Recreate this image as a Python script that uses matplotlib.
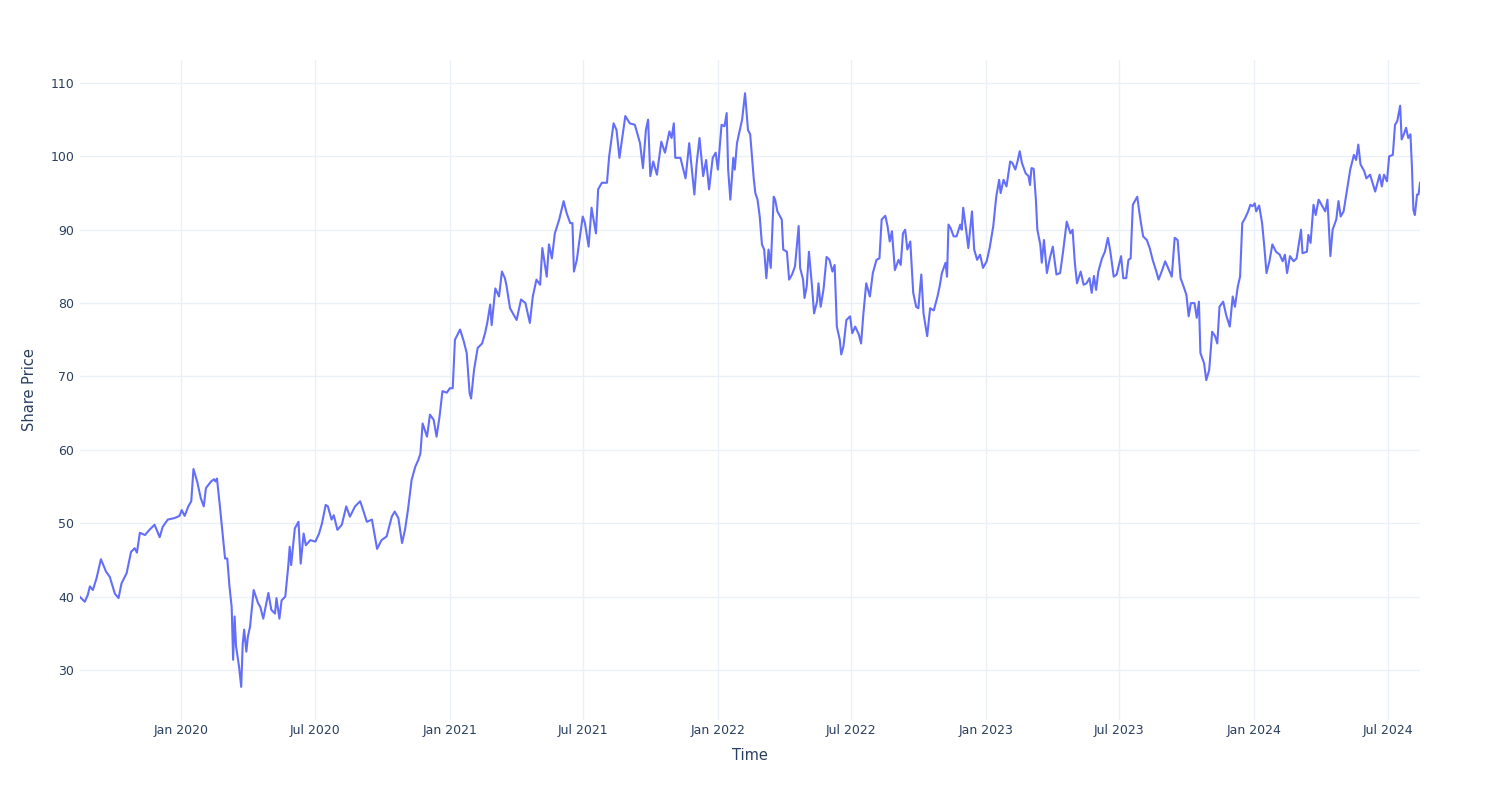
import matplotlib
matplotlib.use("Agg")
import matplotlib.pyplot as plt
import matplotlib.dates as mdates
import pandas as pd

# Data: days since 2020-01-01 and share price
base_date = "2020-01-01"
days = [
    -138, -131, -127, -124, -120, -115, -109, -102, -97, -90, -85, -81, -74, -68, -63, -60,
    -56, -49, -43, -36, -29, -25, -18, -9, -2, 1, 5, 10, 14, 17, 22, 27, 31, 34, 41, 45,
    47, 49, 53, 56, 60, 63, 66, 69, 71, 73, 75, 79, 82, 84, 86, 89, 91, 94, 99, 105,
    108, 112, 119, 123, 128, 130, 134, 137, 142, 146, 148, 150, 155, 160, 163, 167, 170, 176,
    183, 188, 192, 197, 200, 205, 208, 213, 219, 225, 230, 237, 244, 248, 253, 260, 267, 273,
    280, 287, 291, 296, 301, 305, 309, 314, 319, 323, 326, 329, 335, 339, 344, 348, 352, 356,
    362, 366, 370, 373, 380, 385, 389, 393, 395, 399, 404, 410, 414, 417, 421, 423, 428, 433,
    437, 441, 443, 448, 452, 457, 463, 469, 475, 479, 484, 489, 492, 498, 501, 505, 509, 515,
    521, 525, 530, 533, 535, 539, 542, 547, 550, 555, 559, 565, 568, 573, 580, 583, 589, 593,
    597, 601, 605, 611, 618, 625, 629, 633, 636, 639, 643, 648, 654, 659, 665, 668, 671, 673,
    680, 687, 692, 699, 702, 706, 711, 715, 719, 724, 728, 731, 736, 740, 743, 745, 748, 752,
    754, 757, 761, 764, 768, 772, 775, 780, 782, 785, 788, 791, 794, 797, 800, 803, 807, 809,
    812, 818, 820, 825, 828, 832, 836, 841, 843, 847, 849, 852, 855, 859, 862, 866, 868, 871,
    875, 879, 883, 887, 890, 893, 897, 899, 902, 906, 911, 914, 918, 923, 926, 929, 933, 938,
    942, 947, 951, 954, 959, 962, 965, 968, 972, 977, 980, 983, 986, 989, 993, 997, 1001, 1004,
    1008, 1011, 1016, 1020, 1025, 1030, 1033, 1036, 1041, 1043, 1045, 1048, 1052, 1056, 1061, 1063,
    1065, 1069, 1072, 1077, 1080, 1084, 1088, 1092, 1097, 1101, 1106, 1110, 1114, 1116, 1120, 1124,
    1129, 1132, 1136, 1139, 1142, 1145, 1150, 1154, 1156, 1158, 1161, 1164, 1166, 1170, 1172, 1175,
    1179, 1183, 1187, 1192, 1197, 1201, 1206, 1211, 1214, 1217, 1220, 1225, 1229, 1233, 1237, 1240,
    1243, 1246, 1249, 1254, 1258, 1262, 1265, 1270, 1274, 1280, 1283, 1287, 1290, 1293, 1296, 1302,
    1306, 1310, 1315, 1319, 1323, 1328, 1331, 1336, 1340, 1344, 1349, 1353, 1357, 1361, 1365, 1369,
    1372, 1375, 1380, 1383, 1386, 1388, 1393, 1396, 1400, 1404, 1408, 1411, 1414, 1419, 1423, 1428,
    1432, 1435, 1439, 1442, 1445, 1449, 1453, 1456, 1459, 1462, 1464, 1468, 1472, 1475, 1478, 1482,
    1486, 1491, 1496, 1500, 1503, 1506, 1510, 1515, 1519, 1525, 1527, 1533, 1535, 1538, 1542, 1545,
    1549, 1553, 1558, 1561, 1565, 1568, 1573, 1576, 1579, 1583, 1587, 1592, 1597, 1600, 1603, 1606,
    1611, 1614, 1619, 1626, 1632, 1635, 1638, 1642, 1645, 1650, 1653, 1656, 1660, 1662, 1665, 1668,
    1671, 1674, 1676, 1678, 1680, 1683, 1685, 1687,
]
price = [
    40.0, 39.3, 40.2, 41.4, 40.9, 42.5, 45.1, 43.4, 42.7, 40.4, 39.8, 41.8, 43.2, 46.1, 46.6, 46.0,
    48.7, 48.4, 49.1, 49.8, 48.1, 49.5, 50.5, 50.7, 51.0, 51.8, 51.0, 52.3, 53.0, 57.4, 55.7, 53.4, 52.3, 54.8, 55.7, 56.0,
    55.7, 56.1, 52.3, 49.3, 45.2, 45.2, 41.4, 38.6, 31.4, 37.3, 33.2, 30.5, 27.7, 33.5, 35.5, 32.5, 34.5, 35.9, 40.9, 39.1,
    38.6, 37.0, 40.5, 38.2, 37.7, 39.8, 37.0, 39.5, 40.0, 44.1, 46.8, 44.3, 49.3, 50.2, 44.5, 48.6, 47.0, 47.7,
    47.5, 48.6, 50.0, 52.5, 52.3, 50.5, 51.1, 49.1, 49.8, 52.3, 50.9, 52.3, 53.0, 51.8, 50.2, 50.5, 46.5, 47.7,
    48.2, 50.9, 51.6, 50.7, 47.3, 49.1, 51.8, 55.9, 57.7, 58.6, 59.5, 63.6, 61.8, 64.8, 64.1, 61.8, 64.5, 68.0,
    67.8, 68.4, 68.4, 75.0, 76.4, 74.8, 73.2, 67.7, 67.0, 70.9, 73.9, 74.5, 75.9, 77.3, 79.8, 77.0, 82.0, 80.9,
    84.3, 83.4, 82.5, 79.3, 78.6, 77.7, 80.5, 80.0, 77.3, 80.9, 83.2, 82.5, 87.5, 83.6, 88.0, 86.1, 89.5, 91.4,
    93.9, 92.3, 90.9, 90.9, 84.3, 85.9, 88.2, 91.8, 90.9, 87.7, 93.0, 89.5, 95.5, 96.4, 96.4, 100.0, 104.5, 103.6,
    99.8, 102.7, 105.5, 104.5, 104.3, 101.8, 98.4, 103.6, 105.0, 97.3, 99.3, 97.5, 102.0, 100.5, 103.4, 102.5, 104.5, 99.8,
    99.8, 97.0, 101.8, 94.8, 98.9, 102.5, 97.3, 99.5, 95.5, 99.8, 100.5, 98.2, 104.3, 104.1, 105.9, 98.2, 94.1, 99.8,
    98.2, 101.8, 103.6, 105.0, 108.6, 103.6, 103.0, 96.8, 95.0, 94.1, 91.8, 88.0, 87.3, 83.4, 87.3, 84.8, 94.5, 94.1,
    92.5, 91.4, 87.3, 87.0, 83.2, 83.9, 85.0, 90.5, 84.8, 83.2, 80.7, 82.3, 87.0, 82.5, 78.6, 80.2, 82.7, 79.5,
    82.0, 86.3, 85.9, 84.3, 85.2, 76.8, 75.0, 73.0, 74.1, 77.7, 78.2, 75.9, 76.8, 75.7, 74.5, 78.4, 82.7, 80.9,
    84.1, 85.9, 86.1, 91.4, 91.9, 90.5, 88.4, 89.8, 84.5, 85.9, 85.2, 89.5, 90.0, 87.3, 88.4, 81.4, 79.5, 79.3,
    83.9, 78.6, 75.5, 79.3, 79.0, 80.9, 82.3, 84.1, 85.5, 83.6, 90.7, 90.2, 89.1, 89.1, 90.7, 90.0,
    93.0, 90.0, 87.5, 92.5, 87.3, 85.9, 86.6, 84.8, 85.7, 87.5, 90.5, 94.5, 96.8, 95.0, 96.8, 95.9,
    99.3, 99.1, 98.2, 99.3, 100.7, 99.1, 97.7, 97.3, 96.1, 98.4, 98.3, 94.1, 90.0, 88.0, 85.5, 88.6,
    84.1, 86.1, 87.7, 83.9, 84.1, 87.0, 91.1, 89.5, 90.0, 85.5, 82.7, 84.3, 82.5, 82.7, 83.4, 81.4,
    83.7, 81.8, 84.3, 86.1, 87.0, 88.9, 87.3, 83.6, 83.9, 86.4, 83.4, 83.4, 85.9, 86.1, 93.4, 94.5,
    91.6, 89.1, 88.6, 87.5, 85.9, 84.3, 83.2, 84.5, 85.7, 84.8, 83.6, 88.9, 88.6, 83.4, 82.3, 81.1,
    78.2, 80.0, 80.0, 78.0, 80.2, 73.2, 71.8, 69.5, 70.9, 76.1, 75.5, 74.5, 79.5, 80.2, 78.4, 76.8,
    80.9, 79.5, 82.3, 83.6, 90.9, 91.6, 92.5, 93.4, 93.2, 93.6, 92.5, 93.3, 90.9, 87.7, 84.1, 85.7,
    88.0, 87.0, 86.6, 85.7, 86.6, 84.1, 86.4, 85.7, 86.1, 90.0, 86.8, 87.0, 89.3, 88.2, 93.4, 92.0,
    94.1, 93.4, 92.5, 94.1, 86.4, 90.0, 91.4, 93.9, 91.8, 92.5, 95.0, 98.2, 100.2, 99.5, 101.6, 98.9,
    98.0, 97.0, 97.5, 95.2, 97.5, 95.9, 97.5, 96.6, 100.0, 100.2, 104.3, 104.8, 106.9, 102.3, 103.0, 103.9,
    102.5, 103.0, 98.6, 92.7, 92.0, 94.8, 94.8, 96.4,
]
y_ticks = [30, 40, 50, 60, 70, 80, 90, 100, 110]
x_tick_dates = ["2020-01-01", "2020-07-01", "2021-01-01", "2021-07-01", "2022-01-01",
                "2022-07-01", "2023-01-01", "2023-07-01", "2024-01-01", "2024-07-01"]
x_range = ["2019-08-16 12:00", "2024-08-14"]
y_range = [23.19, 113.13]

dates = pd.Timestamp(base_date) + pd.to_timedelta(days, unit="D")

TEXT = "#2a3f5f"
GRID = "#EBF0F8"
LINE = "#636efa"

plt.rcParams["font.family"] = ["DejaVu Sans"]
fig = plt.figure(figsize=(15, 8), dpi=100)
ax = fig.add_axes([80 / 1500, 1 - 720 / 800, 1340 / 1500, 660 / 800])

ax.plot(dates, price, color=LINE, linewidth=1.5, solid_joinstyle="round")

ax.set_xlim(pd.Timestamp(x_range[0]), pd.Timestamp(x_range[1]))
ax.set_ylim(*y_range)
ax.set_yticks(y_ticks)
ax.set_xticks(pd.to_datetime(x_tick_dates))
ax.xaxis.set_major_formatter(mdates.DateFormatter("%b %Y"))

for s in ax.spines.values():
    s.set_visible(False)
ax.grid(True, color=GRID, linewidth=1)
ax.set_axisbelow(True)
ax.tick_params(axis="both", length=0, colors=TEXT, labelsize=9)
ax.tick_params(axis="x", pad=3)
ax.tick_params(axis="y", pad=4)

ax.set_xlabel("Time", color=TEXT, fontsize=10.5, labelpad=8)
ax.set_ylabel("Share Price", color=TEXT, fontsize=10.5, labelpad=10)

fig.savefig("out.png", dpi=100, facecolor="white")
